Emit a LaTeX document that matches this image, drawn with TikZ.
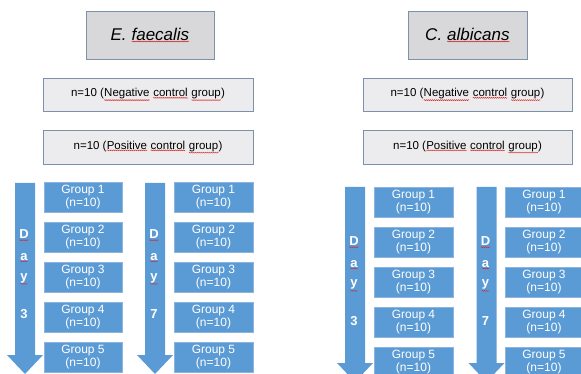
\documentclass[tikz,border=0pt]{standalone}
\usepackage{fontspec}
\setmainfont{Liberation Sans}
\usetikzlibrary{decorations.pathmorphing}
\definecolor{gblue}{RGB}{91,155,213}
\definecolor{gline}{RGB}{140,180,222}
\definecolor{gedge}{RGB}{125,145,172}
\definecolor{tfill}{RGB}{216,216,218}
\definecolor{cfill}{RGB}{236,236,238}
\definecolor{squigred}{RGB}{215,40,40}
\newcommand\squig[1]{\tikz[baseline=(w.base)]{\node[inner sep=0pt,outer sep=0pt,minimum width=0pt,minimum height=0pt,draw=none,fill=none,anchor=base](w){#1};\draw[draw=squigred,fill=none,line width=0.45pt,decorate,decoration={snake,amplitude=0.45pt,segment length=2pt}]([yshift=-1.2pt]w.south west)--([yshift=-1.2pt]w.south east);}}
\newcommand\dayarrow[3]{\fill[gblue] (#1-10,#2) -- (#1+10,#2) -- (#1+10,#3) -- (#1+18,#3) -- (#1,#3+19) -- (#1-18,#3) -- (#1-10,#3) -- cycle;}
\tikzset{
  titlebox/.style={draw=gedge,line width=0.9pt,fill=tfill,inner sep=0pt,font=\fontsize{17}{20}\selectfont\itshape},
  ctrlbox/.style={draw=gedge,line width=0.9pt,fill=cfill,inner sep=0pt,font=\fontsize{11.5}{13}\selectfont},
  grpbox/.style={draw=gline,line width=0.5pt,fill=gblue,text=white,inner sep=0pt,align=center,font=\fontsize{12}{13}\selectfont,minimum height=30pt},
  daytext/.style={text=white,inner sep=0pt,anchor=base,font=\fontsize{13}{14}\selectfont\bfseries},
}
\begin{document}
\begin{tikzpicture}[x=1pt,y=-1pt]
\useasboundingbox (0,0) rectangle (581,374);
\begin{scope}
\clip (0,0) rectangle (581,374);
% titles
\node[titlebox,minimum width=128pt,minimum height=48pt] (tL) at (150,35) {E. \squig{faecalis}};
\node[titlebox,minimum width=119pt,minimum height=48pt] (tR) at (467.5,35) {C. \squig{albicans}};
% control boxes
\node[ctrlbox,minimum width=210pt,minimum height=33pt] (negL) at (148,94.5) {n=10 (\squig{Negative} \squig{control} \squig{group})};
\node[ctrlbox,minimum width=210pt,minimum height=34pt] (posL) at (148,147) {n=10 (\squig{Positive} \squig{control} \squig{group})};
\node[ctrlbox,minimum width=209pt,minimum height=33pt] (negR) at (467.5,94.5) {n=10 (\squig{Negative} \squig{control} \squig{group})};
\node[ctrlbox,minimum width=209pt,minimum height=34pt] (posR) at (467.5,147) {n=10 (\squig{Positive} \squig{control} \squig{group})};
% arrows
\dayarrow{25}{183}{355}
\dayarrow{155}{183}{355}
\dayarrow{355}{187}{363}
\dayarrow{486.5}{187}{363}
% day labels
\foreach \cx/\dy/\num/\nm in {24/0/3/a, 154/0/7/b, 354/7/3/c, 485.5/7/7/d}{
  \node[daytext] (D\nm) at (\cx,239+\dy) {\squig{D}};
  \node[daytext] (A\nm) at (\cx,260+\dy) {\squig{a}};
  \node[daytext] (Y\nm) at (\cx,280+\dy) {\squig{y}};
  \node[daytext] (N\nm) at (\cx,318+\dy) {\num};
}
% group boxes
\foreach \cx/\w/\yz/\nm in {83/78/197/a, 213.5/79/197/b, 413.5/79/202/c, 544/78/202/d}{
  \foreach \i in {1,...,5}{
    \node[grpbox,minimum width=\w pt] (G\nm\i) at (\cx,\yz+40*\i-40) {Group \i\\(n=10)};
  }
}
\end{scope}
\end{tikzpicture}
\end{document}
